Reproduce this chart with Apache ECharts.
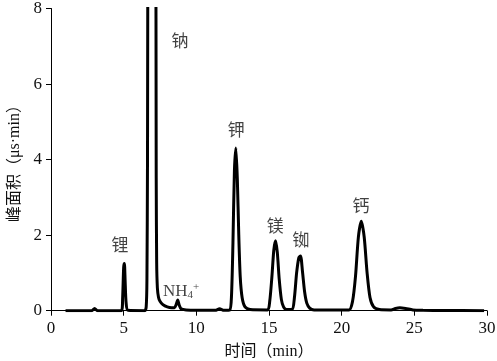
<!DOCTYPE html>
<html><head><meta charset="utf-8">
<script src="https://cdn.jsdelivr.net/npm/echarts@6/dist/echarts.min.js"></script>
<style>html,body{margin:0;padding:0;background:#fff}#c{width:497px;height:361px}</style>
</head><body><div id="c"></div>
<script>
// time (min)
var times = [1.0,2.8,3.0,3.2,4.85,4.93,5.0,5.05,5.1,5.17,5.3,6.45,6.55,6.6,6.64,6.68,6.93,7.2,7.24,7.27,7.32,7.4,7.5,7.7,8.0,8.3,8.5,8.6,8.72,8.82,8.95,9.3,10.0,11.3,11.6,11.9,12.3,12.42,12.52,12.62,12.72,12.82,12.92,13.02,13.15,13.35,13.7,14.9,15.05,15.2,15.33,15.45,15.57,15.7,15.85,16.0,16.2,16.6,16.75,16.9,17.05,17.17,17.3,17.45,17.6,17.8,18.1,20.5,20.75,20.95,21.15,21.35,21.55,21.75,21.95,22.2,22.6,23.4,23.7,24.0,24.4,24.9,25.6,27.0,29.8];
// peak area signal (µs·min)
var signal = [0.0,0.0,0.06,0.0,0.0,0.35,1.15,1.25,0.8,0.2,0.01,0.0,0.1,0.8,4,12,30,12,3.5,1.3,0.6,0.35,0.25,0.16,0.1,0.08,0.08,0.15,0.28,0.15,0.05,0.02,0.01,0.01,0.05,0.01,0.02,0.4,1.8,3.7,4.31,3.5,2.0,0.9,0.35,0.1,0.03,0.02,0.25,0.9,1.6,1.85,1.55,0.85,0.3,0.1,0.03,0.03,0.35,1.0,1.4,1.45,1.05,0.5,0.2,0.07,0.02,0.02,0.25,0.9,1.95,2.37,1.95,1.0,0.35,0.1,0.03,0.02,0.06,0.08,0.06,0.02,0.01,0.005,0.0];
// peak labels
var labelNames = ['锂','钠','NH4+','钾','镁','铷','钙'];
var labelX = [4.75,8.88,8.95,12.74,15.43,17.2,21.33];
var labelY = [1.71,7.1,0.52,4.75,2.19,1.82,2.73];
var xTicks = [0,5,10,15,20,25,30];
var yTicks = [0,2,4,6,8];

var lineData = times.map(function(t,i){return [t, signal[i]];});
var labelData = labelNames.map(function(n,i){return {value:[labelX[i],labelY[i]], name:n};});
var serif = "'Liberation Serif', 'Noto Sans CJK SC', serif";

var chart = echarts.init(document.getElementById('c'));
chart.setOption({
  animation:false,
  backgroundColor:'#fff',
  grid:{left:51,right:10,top:8.5,bottom:50.3,containLabel:false,outerBoundsMode:'none'},
  xAxis:{type:'value',min:xTicks[0],max:xTicks[xTicks.length-1],interval:5,
    name:'时间（min）',nameLocation:'middle',nameGap:33,
    nameTextStyle:{fontFamily:serif,fontSize:16,color:'#111'},
    axisLine:{lineStyle:{color:'#000',width:1}},
    axisTick:{show:true,length:5,lineStyle:{color:'#000'}},
    axisLabel:{fontFamily:serif,fontSize:17,color:'#111',margin:9},
    splitLine:{show:false}},
  yAxis:{type:'value',min:yTicks[0],max:yTicks[yTicks.length-1],interval:2,
    name:'峰面积（μs·min）',nameLocation:'middle',nameGap:28,
    nameTextStyle:{fontFamily:serif,fontSize:16,color:'#111'},
    axisLine:{show:true,lineStyle:{color:'#000',width:1}},
    axisTick:{show:true,length:5,lineStyle:{color:'#000'}},
    axisLabel:{fontFamily:serif,fontSize:17,color:'#111',margin:9},
    splitLine:{show:false}},
  series:[
    {type:'line',data:lineData,showSymbol:false,smooth:0.25,clip:true,
     lineStyle:{color:'#000',width:3}},
    {type:'scatter',data:labelData,symbolSize:0,silent:true,
     label:{show:true,position:'inside',fontFamily:serif,fontSize:17,color:'#111',
       formatter:function(p){return p.name==='NH4+'?'NH{sub|4}{sup|+}':p.name;},
       rich:{sub:{fontFamily:serif,fontSize:11,color:'#111',padding:[8,0,0,0]},
             sup:{fontFamily:serif,fontSize:11,color:'#111',padding:[0,0,8,0]}}}}
  ]
});
</script></body></html>
